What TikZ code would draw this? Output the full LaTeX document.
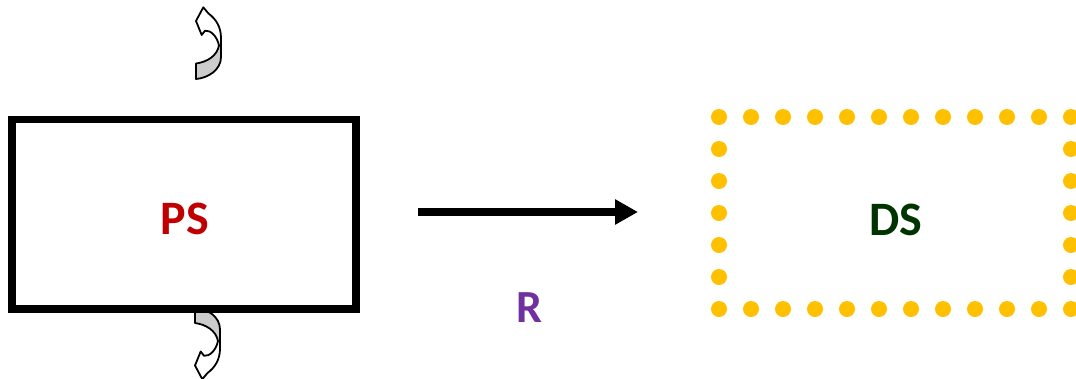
\documentclass[tikz,border=0pt]{standalone}
\usepackage{fontspec}
\setmainfont{Carlito}
\usetikzlibrary{arrows.meta}

\definecolor{psred}{RGB}{192,0,0}
\definecolor{dsgreen}{RGB}{0,51,0}
\definecolor{dotyellow}{RGB}{255,192,0}
\definecolor{rpurple}{RGB}{112,48,160}
\definecolor{twistgray}{RGB}{204,204,204}

% outline of the twisted curved arrow (front face white, back face gray)
\newcommand\twistoutline{(196,79) .. controls (208,78) and (221,70) .. (221,57)
  -- (221,38) .. controls (221,27) and (216,19) .. (208.5,13.5) -- (203.3,7.3)
  -- (196,21) -- (201.7,35) -- (205,30.7)
  .. controls (210.5,30) and (217,36) .. (219,45.5)
  .. controls (217,56) and (207,62) .. (196,63.5) -- cycle}
\newcommand\twistback{(196,63.5) .. controls (207,62) and (217,56) .. (219,45.5)
  -- (221,45.5) -- (221,57) .. controls (221,70) and (208,78) .. (196,79) -- cycle}
\newcommand\drawtwistarrow{%
  \fill[white] \twistoutline;
  \fill[twistgray] \twistback;
  \path[twist] \twistoutline;}

\tikzset{
  lbl/.style={font=\bfseries\fontsize{48}{56}\selectfont, inner sep=0pt},
  solidbox/.style={draw=black, line width=7.7pt, minimum width=344pt,
    minimum height=189.2pt, inner sep=0pt},
  dotbox/.style={draw=dotyellow, line width=16pt, line cap=round,
    dash pattern=on 0pt off 32pt, minimum width=352pt, minimum height=192pt,
    inner sep=0pt},
  flow/.style={line width=7.7pt, -{Triangle[length=23pt,width=24pt]}},
  twist/.style={draw=black, line width=1.8pt, line join=round}
}

\begin{document}
\begin{tikzpicture}[x=1pt, y=-1pt]
  \useasboundingbox (0,0) rectangle (1076,378);

  % curved arrows above and below the physical box
  \drawtwistarrow
  \begin{scope}[transform canvas={shift={(-1pt,-386.5pt)}, yscale=-1}]
    \drawtwistarrow
  \end{scope}

  % physical and digital spaces
  \node[solidbox] (psbox) at (184.2,214.1) {};
  \node[lbl, text=psred] (ps) at (185,219) {PS};
  \node[dotbox] (dsbox) at (895,213) {};
  \node[lbl, text=dsgreen] (ds) at (896,220) {DS};

  % mapping arrow and its label
  \coordinate (rs) at (418,212);
  \coordinate (re) at (638,212);
  \draw[flow] (rs) -- (re);
  \node[lbl, text=rpurple, font=\bfseries\fontsize{46}{54}\selectfont] (r) at (529,307.5) {R};
\end{tikzpicture}
\end{document}
